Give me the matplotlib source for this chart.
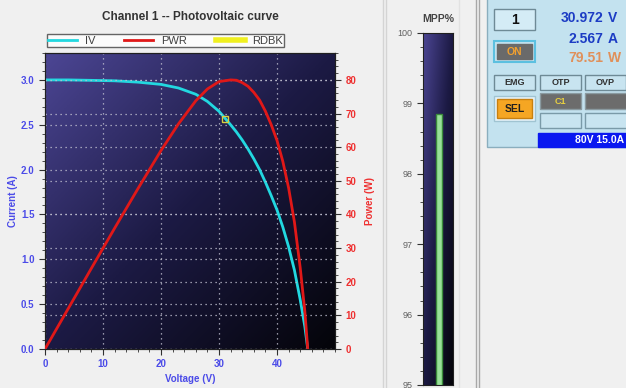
import numpy as np
import matplotlib.pyplot as plt
from matplotlib.colors import LinearSegmentedColormap
from matplotlib.lines import Line2D
from matplotlib.patches import Rectangle
from matplotlib.ticker import MultipleLocator

plt.rcParams['font.family'] = ['Liberation Sans', 'DejaVu Sans']

# IV / power curve
voltage = [0, 4, 8, 12, 16, 20, 23, 26, 28, 30, 32, 33, 34, 35, 36, 37, 38, 39, 40, 41, 42, 43, 44, 44.8, 45.3]
current = [3.00, 3.00, 2.995, 2.99, 2.975, 2.95, 2.91, 2.84, 2.76, 2.65, 2.50, 2.42, 2.33, 2.23, 2.12,
           2.00, 1.86, 1.71, 1.55, 1.36, 1.14, 0.88, 0.55, 0.25, 0.0]
power = [0, 12.0, 24.0, 35.9, 47.6, 59.0, 66.9, 73.8, 77.3, 79.5, 80.0, 79.9, 79.2, 78.1, 76.3,
         74.0, 70.7, 66.7, 62.0, 55.8, 47.9, 37.8, 24.2, 11.2, 0]
rdbk_v = [30.972]
rdbk_i = [2.567]
mpp_pct = 98.85

# readout panel values
chan = "1"
v_read = "30.972"
a_read = "2.567"
w_read = "79.51"
rating = "80V 15.0A"

W, H = 626, 388
fig = plt.figure(figsize=(W / 100, H / 100), dpi=100)
fig.patch.set_facecolor('#f0f0f0')

def fx(px):
    return px / W

def fy(py):
    return 1 - py / H

bg_cmap = LinearSegmentedColormap.from_list('bg', ['#4c4694', '#1c1a44', '#040409'])
yy, xx = np.mgrid[0:1:200j, 0:1:200j]
grad = (xx + yy) / 2

blue = '#4b4be8'
red = '#ee3030'

# overlay for panel decorations
ov = fig.add_axes([0, 0, 1, 1], zorder=-1)
ov.set_xlim(0, W)
ov.set_ylim(H, 0)
ov.axis('off')
for x, c in [(383, '#d4d4d4'), (386, '#d4d4d4'), (459, '#e2e2e2'), (476, '#a8a8a8'), (479, '#a8a8a8')]:
    ov.plot([x, x], [0, H], color=c, lw=1)

# ---- main chart ----
ax = fig.add_axes([fx(45), fy(349), fx(335) - fx(45), fy(53) - fy(349)])
ax.imshow(grad, extent=[0, 50, 0, 3.3], aspect='auto', cmap=bg_cmap, zorder=0)
ax.set_xlim(0, 50)
ax.set_ylim(0, 3.3)
ax2 = ax.twinx()
ax2.set_ylim(0, 88)

ax.grid(True, color='#c0c0d0', ls=(0, (1, 3)), lw=0.9)
ax2.grid(True, axis='y', color='#c0c0d0', ls=(0, (1, 3)), lw=0.9)
ax.set_axisbelow(False)

ax.plot(voltage, current, color='#22d8e0', lw=2, zorder=3)
ax2.plot(voltage, power, color='#e01818', lw=2, zorder=3)
ax.plot(rdbk_v, rdbk_i, 's', ms=4, mfc='none', mec='#d8d040', mew=1, zorder=4)

ax.xaxis.set_major_locator(MultipleLocator(10))
ax.xaxis.set_minor_locator(MultipleLocator(2))
ax.yaxis.set_major_locator(MultipleLocator(0.5))
ax.yaxis.set_minor_locator(MultipleLocator(0.1))
ax2.yaxis.set_major_locator(MultipleLocator(10))
ax2.yaxis.set_minor_locator(MultipleLocator(2))
ax.set_xticks([0, 10, 20, 30, 40])
ax.set_yticks([0, 0.5, 1.0, 1.5, 2.0, 2.5, 3.0])
ax.set_yticklabels(['0.0', '0.5', '1.0', '1.5', '2.0', '2.5', '3.0'])

ax.tick_params(axis='both', which='major', length=4, color='#303030', labelsize=7)
ax.tick_params(axis='both', which='minor', length=2, color='#303030')
ax.tick_params(axis='x', labelcolor=blue)
ax.tick_params(axis='y', labelcolor=blue)
ax2.tick_params(axis='y', which='major', length=4, color='#303030', labelsize=7, labelcolor=red)
ax2.tick_params(axis='y', which='minor', length=2, color='#303030')
for t in ax.get_xticklabels() + ax.get_yticklabels() + ax2.get_yticklabels():
    t.set_fontweight('bold')
for a in (ax, ax2):
    for s in a.spines.values():
        s.set_color('#202020')

ax.set_xlabel('Voltage (V)', color=blue, fontsize=7, fontweight='bold', labelpad=3)
ax.set_ylabel('Current (A)', color=blue, fontsize=7, fontweight='bold', labelpad=2)
ax2.set_ylabel('Power (W)', color=red, fontsize=7, fontweight='bold', labelpad=6)
fig.text(fx(190), fy(17), 'Channel 1 -- Photovoltaic curve', ha='center', va='center',
         fontsize=8.5, fontweight='bold', color='#333333')

handles = [Line2D([], [], color='#22d8e0', lw=2),
           Line2D([], [], color='#e01818', lw=2),
           Line2D([], [], color='#f0f020', lw=4)]
leg = fig.legend(handles, ['IV', 'PWR', 'RDBK'], ncol=3, loc='lower left',
                 bbox_to_anchor=(fx(47), fy(47)), fontsize=8, frameon=True, fancybox=False,
                 handlelength=2.6, handletextpad=0.7, columnspacing=2.6, borderpad=0.12,
                 borderaxespad=0)
leg.get_frame().set_edgecolor('#404040')
leg.get_frame().set_linewidth(1)
for t in leg.get_texts():
    t.set_color('#404040')

# ---- MPP% gauge ----
mx = fig.add_axes([fx(423), fy(385), fx(453) - fx(423), fy(33) - fy(385)])
mx.imshow(grad, extent=[-0.5, 0.5, 95, 100], aspect='auto', cmap=bg_cmap, zorder=0)
mx.set_xlim(-0.5, 0.5)
mx.set_ylim(95, 100)
mx.bar([0.02], [mpp_pct], width=0.2, color='#98e098', edgecolor='#3a8a3a', lw=1, zorder=2)
mx.set_xticks([])
mx.yaxis.set_major_locator(MultipleLocator(1))
mx.yaxis.set_minor_locator(MultipleLocator(0.2))
mx.tick_params(axis='y', which='major', length=4, color='#303030', labelsize=6.5, labelcolor='#606060')
mx.tick_params(axis='y', which='minor', length=2, color='#303030')
for s in mx.spines.values():
    s.set_color('#202020')
fig.text(fx(438), fy(19), 'MPP%', ha='center', va='center', fontsize=7.5, fontweight='bold', color='#444444')

# ---- readout panel ----
def box(x, y, w, h, face, edge='#6e8a96', lw=1):
    ov.add_patch(Rectangle((x, y), w, h, facecolor=face, edgecolor=edge, lw=lw))

box(487, -2, 142, 149, '#c3e2ef', '#8aaebe')
box(494, 9, 41, 21, '#d4ecf6')
ov.text(514.5, 20, chan, ha='center', va='center', fontsize=10, fontweight='bold', color='#111111')
box(494, 41, 41, 21, '#c3e2ef', '#5cc0e0', 1.5)
box(497, 44, 35, 15, '#6a6a6a', '#6a6a6a')
ov.text(514.5, 52, 'ON', ha='center', va='center', fontsize=7.5, fontweight='bold', color='#f0a030')

ov.text(603, 18, v_read, ha='right', va='center', fontsize=10, fontweight='bold', color='#1c3cc4')
ov.text(608, 18, 'V', ha='left', va='center', fontsize=10, fontweight='bold', color='#1c3cc4')
ov.text(603, 39, a_read, ha='right', va='center', fontsize=10, fontweight='bold', color='#1c3cc4')
ov.text(608, 39, 'A', ha='left', va='center', fontsize=10, fontweight='bold', color='#1c3cc4')
ov.text(603, 58, w_read, ha='right', va='center', fontsize=10, fontweight='bold', color='#e0905a')
ov.text(608, 58, 'W', ha='left', va='center', fontsize=10, fontweight='bold', color='#e0905a')

for x, lab in [(494, 'EMG'), (540, 'OTP'), (585, 'OVP')]:
    box(x, 75, 41, 15, '#c8e4f0')
    ov.text(x + 20.5, 82.5, lab, ha='center', va='center', fontsize=6.5, fontweight='bold', color='#303030')

box(494, 96, 41, 25, '#e6f3f9', '#a0c4d2')
box(497, 99, 35, 19, '#f5a623', '#c88010')
ov.text(514.5, 108.5, 'SEL', ha='center', va='center', fontsize=7.5, fontweight='bold', color='#202020')
box(540, 93, 41, 16, '#6c6c6c', '#8a9aa0')
ov.text(560.5, 101, 'C1', ha='center', va='center', fontsize=6.5, fontweight='bold', color='#e8d040')
box(585, 93, 45, 16, '#6c6c6c', '#8a9aa0')
box(540, 113, 41, 15, '#c8e4f0', '#7a9aa8')
box(585, 113, 45, 15, '#c8e4f0', '#7a9aa8')
box(538, 133, 92, 14, '#0a18f0', '#0a18f0')
ov.text(624, 140, rating, ha='right', va='center', fontsize=7.5, fontweight='bold', color='white')

fig.savefig('out.png', dpi=100, facecolor=fig.get_facecolor())
